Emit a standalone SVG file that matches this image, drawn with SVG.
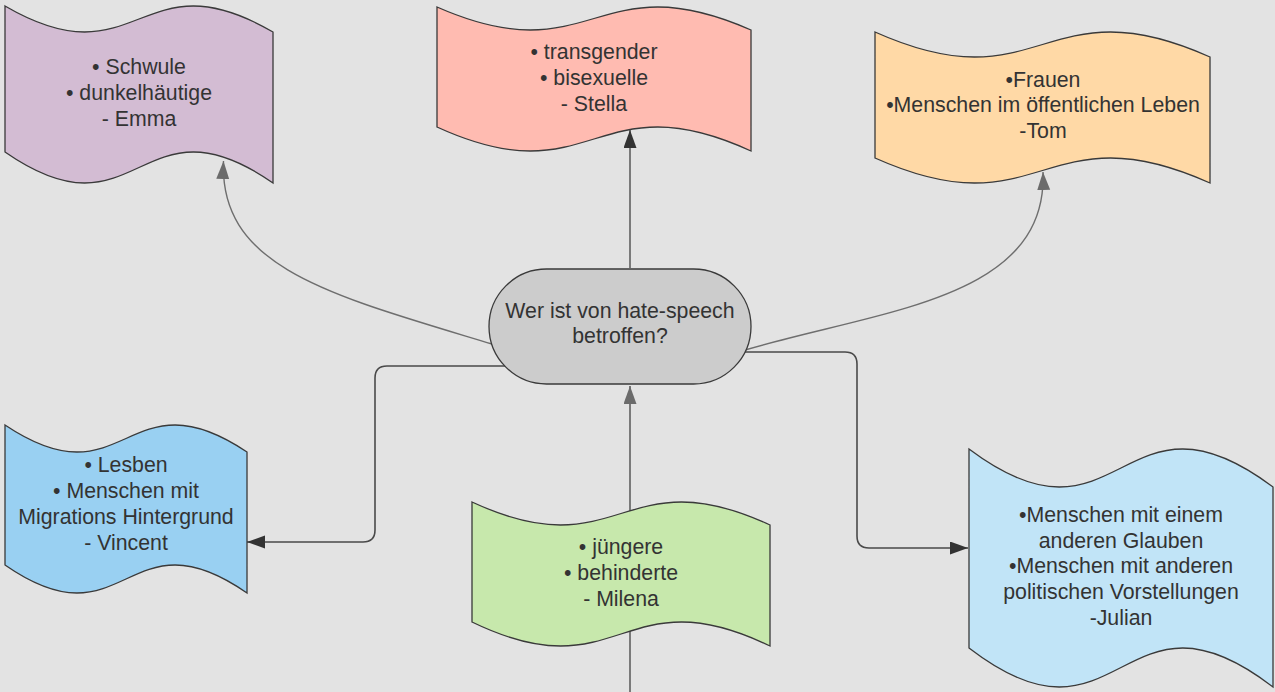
<svg xmlns="http://www.w3.org/2000/svg" width="1275" height="692" viewBox="0 0 1275 692">
<style>
.bg{fill:#e3e3e3}
.node{stroke:#3a3a3a;stroke-width:1.3}
.t{font-family:"Liberation Sans",Arial,sans-serif;font-size:21.3px;fill:#333333;text-anchor:middle}
.cg{fill:none;stroke:#6e6e6e;stroke-width:1.4}
.cd{fill:none;stroke:#4a4a4a;stroke-width:1.6}
.cv{fill:none;stroke:#7a7a7a;stroke-width:2}
</style>
<defs>
<marker id="aDark" markerUnits="userSpaceOnUse" markerWidth="20" markerHeight="14" refX="18" refY="6.5" orient="auto">
<path d="M0,0 L18,6.5 L0,13 Z" fill="#333333"/>
</marker>
<marker id="aGray" markerUnits="userSpaceOnUse" markerWidth="20" markerHeight="14" refX="18" refY="6.5" orient="auto">
<path d="M0,0 L18,6.5 L0,13 Z" fill="#6b6b6b"/>
</marker>
</defs>
<rect class="bg" x="0" y="0" width="1275" height="692"/>
<g id="connectors">
<path class="cg" d="M492,344 C330,295 219,268 223.5,161" marker-end="url(#aGray)"/>
<path class="cv" d="M630,268 L630,130" marker-end="url(#aDark)"/>
<path class="cg" d="M745,350 C880,310 1048,300 1043,172" marker-end="url(#aGray)"/>
<path class="cd" d="M505,366 L387,366 Q375,366 375,378 L375,530 Q375,542 363,542 L247,542" marker-end="url(#aDark)"/>
<path class="cd" d="M745,352 L845,352 Q857,352 857,364 L857,536 Q857,548 869,548 L968,548" marker-end="url(#aDark)"/>
<path class="cv" d="M630,692 L630,386" marker-end="url(#aGray)"/>
</g>
<g id="node-emma">
<path class="node" fill="#d3bcd3" d="M5,6 C139,84 139,-46 273,32 L273,183 C139,90 139,245 5,152 Z"/>
<text class="t" x="139" y="74">• Schwule</text>
<text class="t" x="139" y="100">• dunkelhäutige</text>
<text class="t" x="139" y="126">- Emma</text>
</g>
<g id="node-stella">
<path class="node" fill="#ffbbb1" d="M437,7 C594,76 594,-39 751,30 L751,151 C594,79 594,199 437,127 Z"/>
<text class="t" x="594" y="59">• transgender</text>
<text class="t" x="594" y="85">• bisexuelle</text>
<text class="t" x="594" y="111">- Stella</text>
</g>
<g id="node-tom">
<path class="node" fill="#ffd9a6" d="M875,32 C1042.5,107 1042.5,-18 1210,57 L1210,183 C1042.5,108 1042.5,233 875,158 Z"/>
<text class="t" x="1043" y="87">•Frauen</text>
<text class="t" x="1043" y="112">•Menschen im öffentlichen Leben</text>
<text class="t" x="1043" y="138">-Tom</text>
</g>
<g id="node-center">
<rect class="node" fill="#cccccc" x="489" y="269" width="262" height="115" rx="57.5" ry="57.5"/>
<text class="t" x="620" y="318">Wer ist von hate-speech</text>
<text class="t" x="620" y="343">betroffen?</text>
</g>
<g id="node-vincent">
<path class="node" fill="#99d0f2" d="M5,425 C126,506 126,371 247,452 L247,593 C126,509 126,649 5,565 Z"/>
<text class="t" x="126" y="472">• Lesben</text>
<text class="t" x="126" y="498">• Menschen mit</text>
<text class="t" x="126" y="524">Migrations Hintergrund</text>
<text class="t" x="126" y="550">- Vincent</text>
</g>
<g id="node-milena">
<path class="node" fill="#c7e8ac" d="M472,502 C621,571 621,456 770,525 L770,646 C621,574 621,694 472,622 Z"/>
<text class="t" x="621" y="554">• jüngere</text>
<text class="t" x="621" y="580">• behinderte</text>
<text class="t" x="621" y="606">- Milena</text>
</g>
<g id="node-julian">
<path class="node" fill="#c1e4f7" d="M969,449 C1121,563 1121,373 1273,487 L1273,687 C1121,570 1121,765 969,648 Z"/>
<text class="t" x="1121" y="522">•Menschen mit einem</text>
<text class="t" x="1121" y="548">anderen Glauben</text>
<text class="t" x="1121" y="573">•Menschen mit anderen</text>
<text class="t" x="1121" y="599">politischen Vorstellungen</text>
<text class="t" x="1121" y="625">-Julian</text>
</g>
</svg>
